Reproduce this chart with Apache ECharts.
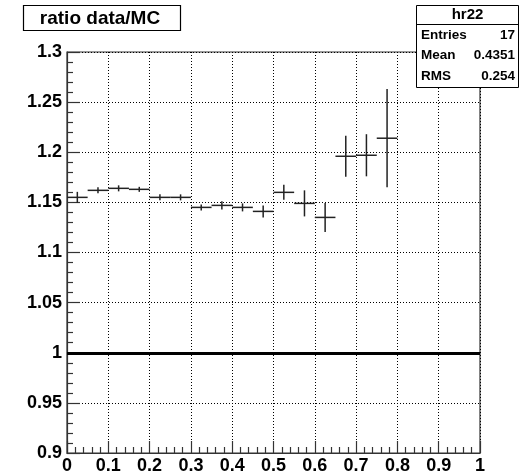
<!DOCTYPE html>
<html>
<head>
<meta charset="utf-8">
<script src="https://cdn.jsdelivr.net/npm/echarts@6/dist/echarts.min.js"></script>
<style>
  html, body { margin: 0; padding: 0; background: #fff; }
  #chart { width: 519px; height: 475px; }
</style>
</head>
<body>
<div id="chart"></div>
<script>
// histogram hr22: ratio data/MC, bins of width 0.05 (empty bins left out)
const binWidth = 0.05;
const binCenters = [0.025, 0.075, 0.125, 0.175, 0.225, 0.275, 0.325, 0.375,
  0.425, 0.475, 0.525, 0.575, 0.625, 0.675, 0.725, 0.775];
const ratio = [1.155, 1.162, 1.164, 1.163, 1.155, 1.155, 1.145, 1.147,
  1.145, 1.141, 1.160, 1.149, 1.135, 1.196, 1.197, 1.214];
const ratioErr = [0.0055, 0.003, 0.003, 0.0025, 0.003, 0.003, 0.003, 0.004,
  0.004, 0.006, 0.0075, 0.013, 0.0145, 0.0205, 0.021, 0.049];
const refLevel = 1;

const statsTitle = "hr22";
const statsRows = [["Entries", "17"], ["Mean", "0.4351"], ["RMS", "0.254"]];
const titleText = "ratio data/MC";

const points = binCenters.map((c, i) => [c, ratio[i], ratioErr[i]]);

const chart = echarts.init(document.getElementById("chart"));
const FONT = "Liberation Sans, Arial, sans-serif";

// stats box elements
const statsBox = [
  { type: "rect", shape: { x: 416.5, y: 5.5, width: 102, height: 82 },
    style: { fill: "#fff", stroke: "#000", lineWidth: 1 }, z: 100 },
  { type: "line", shape: { x1: 416.5, y1: 24.5, x2: 518.5, y2: 24.5 },
    style: { stroke: "#000", lineWidth: 1 }, z: 101 },
  { type: "text", x: 467.5, y: 15, z: 101,
    style: { text: statsTitle, font: "bold 15px " + FONT, fill: "#000",
      align: "center", verticalAlign: "middle" } }
];
statsRows.forEach((r, i) => {
  const yy = 35 + i * 20.5;
  statsBox.push({ type: "text", x: 421, y: yy, z: 101,
    style: { text: r[0], font: "bold 13.5px " + FONT, fill: "#000",
      align: "left", verticalAlign: "middle" } });
  statsBox.push({ type: "text", x: 515, y: yy, z: 101,
    style: { text: r[1], font: "bold 13.5px " + FONT, fill: "#000",
      align: "right", verticalAlign: "middle" } });
});

const tickFmt = v => parseFloat(v.toFixed(2)).toString();

const option = {
  animation: false,
  backgroundColor: "#fff",
  grid: { left: 67, right: 39, top: 52, bottom: 21, show: true,
    borderColor: "#333", borderWidth: 1.2 },
  xAxis: {
    type: "value", min: 0, max: 1, interval: 0.1,
    axisLine: { show: true, onZero: false, lineStyle: { color: "#333", width: 1.2 } },
    axisTick: { show: true, inside: true, length: 12, lineStyle: { color: "#333", width: 1.2 } },
    minorTick: { show: true, splitNumber: 5, length: 6, lineStyle: { color: "#333", width: 1.2 } },
    axisLabel: { color: "#000", fontFamily: FONT, fontWeight: "bold", fontSize: 18, margin: 4,
      formatter: tickFmt },
    splitLine: { show: true, lineStyle: { color: "#000", type: [1, 2], width: 1 } }
  },
  yAxis: {
    type: "value", min: 0.9, max: 1.3, interval: 0.05,
    axisLine: { show: true, lineStyle: { color: "#333", width: 1.2 } },
    axisTick: { show: true, inside: true, length: 13, lineStyle: { color: "#333", width: 1.2 } },
    minorTick: { show: true, splitNumber: 5, length: 6, lineStyle: { color: "#333", width: 1.2 } },
    axisLabel: { color: "#000", fontFamily: FONT, fontWeight: "bold", fontSize: 18, margin: 5,
      formatter: tickFmt },
    splitLine: { show: true, lineStyle: { color: "#000", type: [1, 2], width: 1 } }
  },
  graphic: [
    { type: "rect", shape: { x: 23.5, y: 5.5, width: 157, height: 25 },
      style: { fill: "#fff", stroke: "#000", lineWidth: 1.2 }, z: 100 },
    { type: "text", x: 100, y: 18.5, z: 101,
      style: { text: titleText, font: "bold 19px " + FONT, fill: "#000",
        align: "center", verticalAlign: "middle" } }
  ].concat(statsBox),
  series: [
    {
      type: "custom",
      data: points,
      clip: true,
      renderItem: (params, api) => {
        const x = api.value(0), y = api.value(1), e = api.value(2);
        const l = api.coord([x - binWidth / 2, y]);
        const r = api.coord([x + binWidth / 2, y]);
        const t = api.coord([x, y + e]);
        const b = api.coord([x, y - e]);
        const st = { stroke: "#222", lineWidth: 1.5 };
        return { type: "group", children: [
          { type: "line", shape: { x1: l[0], y1: l[1], x2: r[0], y2: r[1] }, style: st },
          { type: "line", shape: { x1: t[0], y1: t[1], x2: b[0], y2: b[1] }, style: st }
        ] };
      },
      markLine: {
        silent: true, symbol: "none", label: { show: false },
        lineStyle: { color: "#000", width: 3, type: "solid" },
        data: [{ yAxis: refLevel }]
      }
    }
  ]
};
chart.setOption(option);
</script>
</body>
</html>
